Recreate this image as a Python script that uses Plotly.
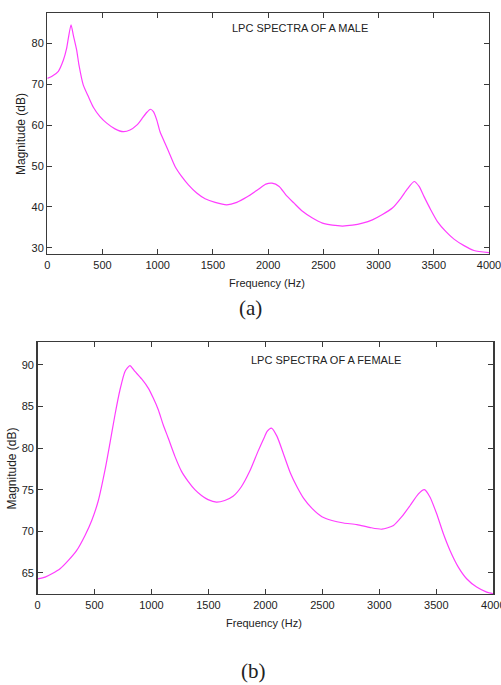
import plotly.graph_objects as go

# Male LPC spectrum (Hz, dB)
male_freq = [0, 39, 100, 145, 175, 190, 215, 236, 266, 287, 326, 372, 417, 477, 538, 613, 689, 749,
             810, 855, 900, 934, 961, 991, 1021, 1066, 1112, 1157, 1218, 1278, 1353, 1429, 1520, 1625,
             1716, 1807, 1912, 1979, 2035, 2100, 2160, 2235, 2311, 2401, 2492, 2582, 2673, 2763, 2854,
             2944, 3035, 3125, 3201, 3261, 3322, 3367, 3412, 3472, 3533, 3608, 3683, 3774, 3864, 4000]
male_db = [71.45, 71.9, 73.2, 75.9, 78.8, 81.2, 84.6, 82.0, 78.4, 74.7, 69.8, 67.0, 64.4, 62.1, 60.5,
           59.1, 58.4, 58.8, 60.0, 61.5, 63.1, 63.9, 63.3, 61.3, 58.4, 55.6, 52.7, 49.9, 47.4, 45.4,
           43.4, 42.0, 41.1, 40.5, 41.1, 42.4, 44.3, 45.55, 45.8, 45.0, 42.95, 40.9, 38.9, 37.25, 36.0,
           35.5, 35.3, 35.5, 36.0, 36.8, 38.1, 39.7, 42.1, 44.4, 46.2, 45.0, 42.5, 39.3, 36.4, 34.0,
           32.1, 30.5, 29.3, 28.8]

# Female LPC spectrum (Hz, dB)
female_freq = [0, 67, 126, 198, 271, 344, 417, 476, 534, 593, 636, 680, 724, 768, 811, 855, 914, 972,
               1016, 1060, 1103, 1147, 1206, 1264, 1322, 1381, 1439, 1497, 1570, 1643, 1716, 1789, 1862,
               1935, 1994, 2015, 2053, 2102, 2161, 2219, 2277, 2336, 2409, 2496, 2584, 2686, 2803, 2919,
               3022, 3124, 3197, 3270, 3343, 3395, 3445, 3503, 3562, 3620, 3693, 3766, 3854, 3942, 4000]
female_db = [64.28, 64.5, 64.9, 65.5, 66.5, 67.7, 69.5, 71.3, 73.7, 77.4, 80.6, 84.0, 87.0, 89.2, 89.9,
             89.2, 88.3, 87.2, 86.0, 84.6, 82.8, 81.2, 79.0, 77.2, 76.0, 75.0, 74.3, 73.8, 73.5, 73.7,
             74.2, 75.35, 77.2, 79.6, 81.4, 82.0, 82.4, 81.4, 79.2, 77.0, 75.35, 73.95, 72.75, 71.75,
             71.3, 71.0, 70.8, 70.45, 70.25, 70.7, 71.75, 73.1, 74.5, 75.0, 74.1, 72.1, 69.7, 67.7,
             65.7, 64.3, 63.3, 62.7, 62.5]

x_ticks = [0, 500, 1000, 1500, 2000, 2500, 3000, 3500, 4000]
male_y_ticks = [30, 40, 50, 60, 70, 80]
female_y_ticks = [65, 70, 75, 80, 85, 90]

W, H = 501, 685
LINE = "#ff3dff"
AXC = "#3a3a3a"
SANS = "Liberation Sans, Arial"
SERIF = "Liberation Serif, Times New Roman, serif"

fig = go.Figure()
fig.add_trace(go.Scatter(x=male_freq, y=male_db, mode="lines",
                         line=dict(color=LINE, width=1.2, shape="spline", smoothing=0.6),
                         xaxis="x", yaxis="y", showlegend=False, hoverinfo="skip"))
fig.add_trace(go.Scatter(x=female_freq, y=female_db, mode="lines",
                         line=dict(color=LINE, width=1.2, shape="spline", smoothing=0.6),
                         xaxis="x2", yaxis="y2", showlegend=False, hoverinfo="skip"))

def px(xp):
    return xp / W

def py(yp):
    return 1 - yp / H

axis_common = dict(showline=True, linecolor=AXC, linewidth=1.3, mirror="ticks", ticks="inside",
                   ticklen=5, tickcolor=AXC, tickwidth=1, showgrid=False, zeroline=False,
                   ticklabeloverflow="allow",
                   tickfont=dict(family=SANS, size=11, color="#222"))

fig.update_layout(
    width=W, height=H, autosize=False, margin=dict(l=0, r=0, t=0, b=0, autoexpand=False),
    paper_bgcolor="white", plot_bgcolor="white",
    xaxis=dict(domain=[px(47.3), px(489)], range=[0, 4000], tickvals=x_ticks, anchor="y", **axis_common),
    yaxis=dict(domain=[py(254), py(13.3)], range=[28.45, 87.4], tickvals=male_y_ticks, anchor="x", **axis_common),
    xaxis2=dict(domain=[px(37.5), px(493.3)], range=[0, 4000], tickvals=x_ticks, anchor="y2", **axis_common),
    yaxis2=dict(domain=[py(594), py(342.3)], range=[62.47, 92.7], tickvals=female_y_ticks, anchor="x2", **axis_common),
)

def ann(text, x, y, font, size, angle=0):
    fig.add_annotation(text=text, x=px(x), y=py(y), xref="paper", yref="paper", showarrow=False,
                       xanchor="center", yanchor="middle", textangle=angle,
                       font=dict(family=font, size=size, color="#222"))

ann("LPC SPECTRA OF A MALE", 300.3, 28, SANS, 11)
ann("LPC SPECTRA OF A FEMALE", 325.5, 359.8, SANS, 11)
ann("Frequency (Hz)", 267, 283, SANS, 11)
ann("Frequency (Hz)", 264, 622.7, SANS, 11)
ann("Magnitude (dB)", 21, 134, SANS, 12, -90)
ann("Magnitude (dB)", 11.7, 468.8, SANS, 12, -90)
ann("(a)", 250, 308, SERIF, 21)
ann("(b)", 253.8, 670.5, SERIF, 21)

fig.write_html("out.html",
               config={"responsive": False, "displayModeBar": False, "staticPlot": True},
               post_script="document.body.style.margin='0px';document.body.style.overflow='hidden';")
